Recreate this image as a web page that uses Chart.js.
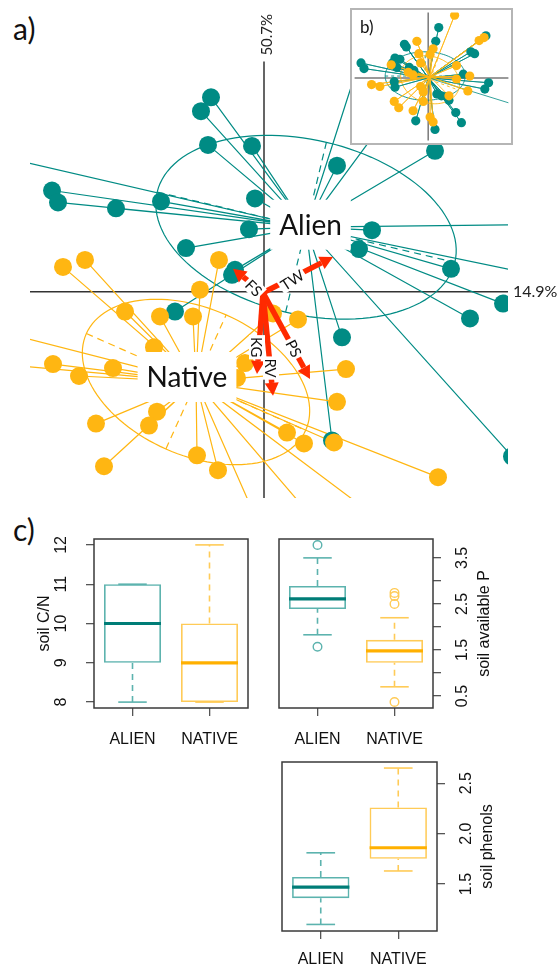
<!DOCTYPE html>
<html>
<head>
<meta charset="utf-8">
<script src="https://cdn.jsdelivr.net/npm/chart.js@4.4.1/dist/chart.umd.min.js"></script>
<style>
  body { margin: 0; width: 557px; height: 970px; overflow: hidden; position: relative; background: #fff; }
  canvas { position: absolute; }
  .tag { position: absolute; font-family: Lato, sans-serif; font-size: 30px; line-height: 30px; color: #111; }
  #inset { background: #fff; }
</style>
</head>
<body>
<div class="tag" style="left:13px;top:13px">a)</div>
<div class="tag" style="left:13px;top:514px">c)</div>
<canvas id="pca" width="557" height="510" style="left:0;top:0"></canvas>
<canvas id="inset" width="163" height="137" style="left:350px;top:8px"></canvas>
<canvas id="box1" width="260" height="240" style="left:0;top:525px"></canvas>
<canvas id="box2" width="292" height="240" style="left:265px;top:525px"></canvas>
<canvas id="box3" width="292" height="230" style="left:265px;top:745px"></canvas>
<script>
const teal = '#008b84';
const gold = '#ffb612';

// ---- panel a: site scores on axes 1/2 ----
const alienCentre = [0.42, 0.65];
const alienPts = [[-0.53,1.96],[-0.63,1.82],[-0.56,1.48],[-0.12,1.47],[-2.12,1.02],[-2.06,0.90],
  [-1.48,0.84],[-1.03,0.91],[-0.09,0.94],[-0.15,0.63],[-0.78,0.44],[0.73,1.27],[1.71,1.42],
  [1.08,0.62],[0.95,0.43],[1.87,0.23],[2.39,-0.12],[2.06,-0.27],[0.78,-0.46],[0.68,-1.50],
  [2.48,-1.66],[-0.29,0.22],[-0.32,0.17],[-0.89,-0.20],[-2.54,1.34],[2.96,0.68],[2.96,0.12],
  [1.01,2.50],[1.37,1.95]];
const nativeCentre = [-0.68, -0.91];
const nativePts = [[-2.01,0.25],[-1.79,0.32],[-0.45,0.32],[-0.64,0.02],[-1.39,-0.20],[-1.04,-0.25],
  [-0.71,-0.25],[-1.10,-0.56],[-2.11,-0.73],[-1.85,-0.85],[-1.51,-0.77],[-0.19,-0.72],[-0.27,-0.87],
  [-1.07,-1.21],[-1.15,-1.35],[-1.68,-1.33],[-0.67,-1.65],[-0.46,-1.80],[-1.60,-1.76],[0.34,-0.28],
  [0.82,-0.78],[0.73,-1.11],[0.23,-1.42],[0.40,-1.53],[0.70,-1.52],[1.74,-1.87],[0.09,-0.22],
  [-2.54,-0.43],[-2.54,-0.74],[-0.03,-2.40],[1.29,-2.40],[0.46,-2.25]];
// ellipse: centre, semi axes, angle (deg)
const alienEll = [0.42, 0.65, 1.53, 0.88, -13.4];
const nativeEll = [-0.68, -0.91, 1.20, 0.74, -24];

// soil variables (arrows)
const arrowNames = ['FS', 'TW', 'KG', 'RV', 'PS'];
const arrowX = [-0.31, 0.69, -0.07, 0.09, 0.46];
const arrowY = [0.23, 0.35, -0.83, -1.05, -0.88];
const arrowOrigin = [-0.01, -0.01];

const axisLabels = ['50.7%', '14.9%'];

// ---- panel b: inset ----
const insetAlienCentre = [0, 0];
const insetAlienPts = [[0.28,1.35],[0.2,0.98],[1.53,1.13],[-0.63,0.9],[-0.58,0.83],[1.13,0.7],[1.23,0.65],
  [-1.78,0.4],[-1.7,0.25],[-0.88,0.53],[-0.75,0.5],[-0.95,0.4],[-0.83,0.28],[-0.5,0.28],[-0.38,0.2],
  [0.93,0.1],[1.6,-0.13],[1.5,-0.3],[-0.9,-0.1],[-0.88,-0.25],[0.23,-0.43],[0.35,-0.48],[0.48,-0.5],
  [0.55,-0.6],[0.73,-0.93],[0.88,-1.2],[-0.33,-1.15],[0.18,-1.38],[2.55,-0.8]];
const insetNativeCentre = [0.05, 0.03];
const insetNativePts = [[0.7,1.68],[1.48,1.08],[1.35,1.0],[-0.3,0.98],[-0.25,0.65],[0.13,0.78],[0.05,0.63],
  [-0.2,0.4],[-0.98,0.35],[0.75,0.33],[-0.53,0.15],[-0.4,0.08],[1.1,0.05],[0.75,-0.03],[-1.5,-0.18],
  [-1.28,-0.23],[1.05,-0.35],[-0.2,-0.23],[-0.13,-0.38],[-0.9,-0.63],[-0.78,-0.8],[-0.4,-0.88],
  [-0.13,-0.63],[0.05,-1.05],[0.13,-1.18],[0.55,-0.48]];
const insetAlienEll = [-0.08, 0.05, 1.06, 0.65, 0];
const insetNativeEll = [0.05, -0.05, 0.8, 0.62, -20];

// ---- panel c: boxplots [lower whisker, Q1, median, Q3, upper whisker] ----
const boxCats = ['ALIEN', 'NATIVE'];
const cnAlien = [8, 9, 10, 11, 11];
const cnNative = [8, 8, 9, 10, 12];
const cnTicks = [8, 9, 10, 11, 12];
const pAlien = [1.83, 2.39, 2.61, 2.89, 3.5];
const pNative = [0.7, 1.22, 1.48, 1.72, 2.2];
const pAlienOut = [3.78, 1.57];
const pNativeOut = [2.74, 2.67, 2.5, 0.37];
const pTicks = [0.5, 1, 1.5, 2, 2.5, 3, 3.5];
const pTickLabels = [0.5, 1.5, 2.5, 3.5];
const phAlien = [1.10, 1.36, 1.47, 1.57, 1.81];
const phNative = [1.63, 1.75, 1.86, 2.26, 2.65];
const phTicks = [1.5, 2.0, 2.5];

const boxEdge = ['#5cb3ae', '#ffcb57'];
const boxMed = ['#007d77', '#ffb000'];

// --- helpers ---
function spokes(c, pts) {
  const out = [];
  pts.forEach(p => { out.push({x: c[0], y: c[1]}, {x: p[0], y: p[1]}); });
  return out;
}
function toXY(pts) { return pts.map(p => ({x: p[0], y: p[1]})); }

function drawEllipse(ctx, xs, ys, e, dash) {
  const [cx, cy, a, b, deg] = e;
  const r = deg * Math.PI / 180, c = Math.cos(r), s = Math.sin(r);
  const P = (u, v) => [xs.getPixelForValue(cx + u * c - v * s), ys.getPixelForValue(cy + u * s + v * c)];
  ctx.beginPath();
  for (let k = 0; k <= 120; k++) {
    const t = k / 120 * 2 * Math.PI;
    const [px, py] = P(a * Math.cos(t), b * Math.sin(t));
    k ? ctx.lineTo(px, py) : ctx.moveTo(px, py);
  }
  ctx.stroke();
  ctx.setLineDash(dash);
  ctx.beginPath();
  let p = P(-a, 0), q = P(a, 0);
  ctx.moveTo(p[0], p[1]); ctx.lineTo(q[0], q[1]);
  p = P(0, -b); q = P(0, b);
  ctx.moveTo(p[0], p[1]); ctx.lineTo(q[0], q[1]);
  ctx.stroke();
  ctx.setLineDash([]);
}

function groupSets(cA, pA, cN, pN, r, lw) {
  return [
    {data: toXY(pN), backgroundColor: gold, borderWidth: 0, pointRadius: r, order: 1},
    {data: toXY(pA), backgroundColor: teal, borderWidth: 0, pointRadius: r, order: 2},
    {type: 'line', data: spokes(cN, pN), borderColor: gold, borderWidth: lw, pointRadius: 0, order: 3},
    {type: 'line', data: spokes(cA, pA), borderColor: teal, borderWidth: lw, pointRadius: 0, order: 4}
  ];
}

// ---------- panel a ----------
const groupLabels = [['Alien', 0.465, 0.675], ['Native', -0.77, -0.86]];
const arrowLabelAt = [[-0.10, 0.04, 45], [0.28, 0.12, -33], [-0.07, -0.56, 90], [0.07, -0.77, 90], [0.30, -0.57, 63]];

const pcaDecor = {
  id: 'pcaDecor',
  beforeDatasetsDraw(chart) {
    const {ctx, chartArea: a} = chart;
    const xs = chart.scales.x, ys = chart.scales.y;
    ctx.save();
    ctx.strokeStyle = '#333';
    ctx.lineWidth = 1.5;
    ctx.beginPath();
    ctx.moveTo(xs.getPixelForValue(0), ys.getPixelForValue(2.32));
    ctx.lineTo(xs.getPixelForValue(0), a.bottom);
    ctx.moveTo(a.left, ys.getPixelForValue(0));
    ctx.lineTo(a.right, ys.getPixelForValue(0));
    ctx.stroke();
    ctx.lineWidth = 1.2;
    ctx.strokeStyle = teal;
    drawEllipse(ctx, xs, ys, alienEll, [7, 5]);
    ctx.strokeStyle = gold;
    drawEllipse(ctx, xs, ys, nativeEll, [7, 5]);
    ctx.restore();
  },
  afterDatasetsDraw(chart) {
    const ctx = chart.ctx;
    const xs = chart.scales.x, ys = chart.scales.y;
    ctx.save();
    // group labels
    ctx.font = '28px Lato';
    ctx.textAlign = 'center';
    ctx.textBaseline = 'middle';
    groupLabels.forEach(([t, gx, gy]) => {
      const px = xs.getPixelForValue(gx), py = ys.getPixelForValue(gy);
      const w = ctx.measureText(t).width;
      ctx.fillStyle = '#fff';
      ctx.fillRect(px - w / 2 - 9, py - 25, w + 18, 50);
      ctx.fillStyle = '#111';
      ctx.fillText(t, px, py + 1);
    });
    // arrows
    const ox = xs.getPixelForValue(arrowOrigin[0]), oy = ys.getPixelForValue(arrowOrigin[1]);
    ctx.strokeStyle = '#ff2a00';
    ctx.fillStyle = '#ff2a00';
    arrowNames.forEach((n, i) => {
      const ex = xs.getPixelForValue(arrowX[i]), ey = ys.getPixelForValue(arrowY[i]);
      const ang = Math.atan2(ey - oy, ex - ox);
      const hl = 13, hw = 7;
      const bx = ex - hl * Math.cos(ang), by = ey - hl * Math.sin(ang);
      ctx.lineWidth = 5.5;
      ctx.beginPath(); ctx.moveTo(ox, oy); ctx.lineTo(bx, by); ctx.stroke();
      ctx.beginPath();
      ctx.moveTo(ex, ey);
      ctx.lineTo(bx + hw * Math.sin(ang), by - hw * Math.cos(ang));
      ctx.lineTo(bx - hw * Math.sin(ang), by + hw * Math.cos(ang));
      ctx.closePath(); ctx.fill();
    });
    // arrow labels
    ctx.font = '15px Lato';
    arrowNames.forEach((n, i) => {
      const [lx, ly, deg] = arrowLabelAt[i];
      ctx.save();
      ctx.translate(xs.getPixelForValue(lx), ys.getPixelForValue(ly));
      ctx.rotate(deg * Math.PI / 180);
      const w = ctx.measureText(n).width;
      ctx.fillStyle = '#fff';
      ctx.fillRect(-w / 2 - 2, -8, w + 4, 16);
      ctx.fillStyle = '#111';
      ctx.fillText(n, 0, 1);
      ctx.restore();
    });
    // axis inertia labels
    ctx.fillStyle = '#222';
    ctx.font = '15px Lato';
    ctx.save();
    ctx.translate(xs.getPixelForValue(0) + 3, ys.getPixelForValue(2.59));
    ctx.rotate(-Math.PI / 2);
    ctx.fillText(axisLabels[0], 0, 0);
    ctx.restore();
    ctx.textAlign = 'left';
    ctx.font = '16px Lato';
    ctx.fillText(axisLabels[1], chart.chartArea.right + 5, ys.getPixelForValue(0));
    ctx.restore();
  }
};

new Chart(document.getElementById('pca'), {
  type: 'scatter',
  data: {datasets: groupSets(alienCentre, alienPts, nativeCentre, nativePts, 9, 1.2)},
  options: {
    responsive: false,
    animation: false,
    layout: {padding: {left: 30, right: 49, top: 5, bottom: 12}},
    plugins: {legend: {display: false}, tooltip: {enabled: false}},
    scales: {
      x: {type: 'linear', display: false, min: -2.34, max: 2.44},
      y: {type: 'linear', display: false, min: -2.08, max: 2.85}
    }
  },
  plugins: [pcaDecor]
});

// ---------- panel b ----------
const insetDecor = {
  id: 'insetDecor',
  beforeDatasetsDraw(chart) {
    const {ctx, chartArea: a} = chart;
    const xs = chart.scales.x, ys = chart.scales.y;
    ctx.save();
    ctx.strokeStyle = '#7a7a7a';
    ctx.lineWidth = 1.5;
    ctx.beginPath();
    ctx.moveTo(xs.getPixelForValue(0), a.top); ctx.lineTo(xs.getPixelForValue(0), a.bottom);
    ctx.moveTo(a.left, ys.getPixelForValue(0)); ctx.lineTo(a.right, ys.getPixelForValue(0));
    ctx.stroke();
    ctx.lineWidth = 0.9;
    ctx.strokeStyle = teal;
    drawEllipse(ctx, xs, ys, insetAlienEll, [3, 3]);
    ctx.strokeStyle = gold;
    drawEllipse(ctx, xs, ys, insetNativeEll, [3, 3]);
    ctx.restore();
  },
  afterDraw(chart) {
    const ctx = chart.ctx;
    ctx.save();
    ctx.strokeStyle = '#b5b5b5';
    ctx.lineWidth = 2;
    ctx.strokeRect(1, 1, chart.width - 2, chart.height - 2);
    ctx.fillStyle = '#111';
    ctx.font = '17px Lato';
    ctx.textBaseline = 'middle';
    ctx.fillText('b)', 10, 20);
    ctx.restore();
  }
};

new Chart(document.getElementById('inset'), {
  type: 'scatter',
  data: {datasets: groupSets(insetAlienCentre, insetAlienPts, insetNativeCentre, insetNativePts, 4.6, 0.8)},
  options: {
    responsive: false,
    animation: false,
    plugins: {legend: {display: false}, tooltip: {enabled: false}},
    scales: {
      x: {type: 'linear', display: false, min: -1.95, max: 2.125},
      y: {type: 'linear', display: false, min: -1.675, max: 1.75}
    }
  },
  plugins: [insetDecor]
});

// ---------- panel c ----------
const boxExtras = {
  id: 'boxExtras',
  afterDatasetsDraw(chart, args, o) {
    const {ctx, chartArea: a} = chart;
    const xs = chart.scales.x, ys = chart.scales.y;
    const bars = chart.getDatasetMeta(0).data;
    const line = (x1, y1, x2, y2) => { ctx.beginPath(); ctx.moveTo(x1, y1); ctx.lineTo(x2, y2); ctx.stroke(); };
    ctx.save();
    o.stats.forEach((s, i) => {
      const x = xs.getPixelForValue(i), w = bars[i].width;
      const Y = v => ys.getPixelForValue(v);
      ctx.strokeStyle = boxEdge[i];
      ctx.lineWidth = 1.6;
      ctx.setLineDash([6, 5]);
      line(x, Y(s[0]), x, Y(s[1]));
      line(x, Y(s[3]), x, Y(s[4]));
      ctx.setLineDash([]);
      line(x - w / 4, Y(s[0]), x + w / 4, Y(s[0]));
      line(x - w / 4, Y(s[4]), x + w / 4, Y(s[4]));
      ctx.strokeStyle = boxMed[i];
      ctx.lineWidth = 3.2;
      line(x - w / 2, Y(s[2]), x + w / 2, Y(s[2]));
    });
    // frame
    ctx.strokeStyle = '#3a3a3a';
    ctx.lineWidth = 1.5;
    ctx.strokeRect(a.left, a.top, a.right - a.left, a.bottom - a.top);
    // y tick labels and title, rotated like base graphics
    ctx.fillStyle = '#111';
    ctx.textAlign = 'center';
    ctx.textBaseline = 'middle';
    ctx.font = '16px "Liberation Sans"';
    o.tickLabels.forEach(v => {
      ctx.save();
      ctx.translate(o.labelX, ys.getPixelForValue(v));
      ctx.rotate(-Math.PI / 2);
      ctx.fillText(o.fmt(v), 0, 0);
      ctx.restore();
    });
    ctx.save();
    ctx.translate(o.titleX, (a.top + a.bottom) / 2);
    ctx.rotate(-Math.PI / 2);
    ctx.fillText(o.title, 0, 0);
    ctx.restore();
    ctx.restore();
  }
};

function boxChart(id, g, stats, outs, yMin, yMax, ticks, tickLabels, title, fmt) {
  const outPts = [];
  outs.forEach((list, i) => list.forEach(v => outPts.push({x: boxCats[i], y: v})));
  return new Chart(document.getElementById(id), {
    type: 'bar',
    data: {
      labels: boxCats,
      datasets: [
        {data: stats.map(s => [s[1], s[3]]), backgroundColor: 'rgba(0,0,0,0)', borderColor: boxEdge,
          borderWidth: 1.6, borderSkipped: false, barPercentage: 0.74, categoryPercentage: 1, order: 2},
        {type: 'line', data: outPts, showLine: false, pointRadius: 4.3, pointBorderWidth: 1.4,
          pointBackgroundColor: 'rgba(0,0,0,0)',
          pointBorderColor: outPts.map(p => p.x === 'ALIEN' ? boxEdge[0] : boxEdge[1]), order: 1}
      ]
    },
    options: {
      responsive: false,
      animation: false,
      layout: {padding: {left: g.padL, right: g.padR, top: g.padT, bottom: 0}},
      plugins: {
        legend: {display: false}, tooltip: {enabled: false},
        boxExtras: {stats, tickLabels, title, fmt, labelX: g.labelX, titleX: g.titleX}
      },
      scales: {
        x: {
          offset: true,
          grid: {offset: false, drawOnChartArea: false, tickLength: 8, color: '#555', lineWidth: 1.3},
          border: {display: false},
          ticks: {color: '#111', padding: g.xPad, font: {family: 'Liberation Sans', size: 16}},
          afterFit: s => { s.height = g.xH; }
        },
        y: {
          position: g.side, min: yMin, max: yMax,
          afterBuildTicks: s => { s.ticks = ticks.map(v => ({value: v})); },
          ticks: {display: false},
          grid: {drawOnChartArea: false, tickLength: 8, color: '#555', lineWidth: 1.3},
          border: {display: false},
          afterFit: s => { s.width = g.axisW; }
        }
      }
    },
    plugins: [boxExtras]
  });
}

boxChart('box1', {side: 'left', padL: 0, padR: 12, padT: 14, axisW: 94, xH: 57, xPad: 14, labelX: 62, titleX: 45},
  [cnAlien, cnNative], [[], []], 7.85, 12.15, cnTicks, cnTicks, 'soil C/N', v => String(v));
boxChart('box2', {side: 'right', padL: 14, padR: 0, padT: 14, axisW: 124, xH: 57, xPad: 14, labelX: 198, titleX: 220},
  [pAlien, pNative], [pAlienOut, pNativeOut], 0.24, 3.91, pTicks, pTickLabels, 'soil available P', v => v.toFixed(1));
boxChart('box3', {side: 'right', padL: 17, padR: 0, padT: 17, axisW: 120, xH: 44, xPad: 11, labelX: 202, titleX: 223},
  [phAlien, phNative], [[], []], 1.035, 2.71, phTicks, phTicks, 'soil phenols', v => v.toFixed(1));
</script>
</body>
</html>
